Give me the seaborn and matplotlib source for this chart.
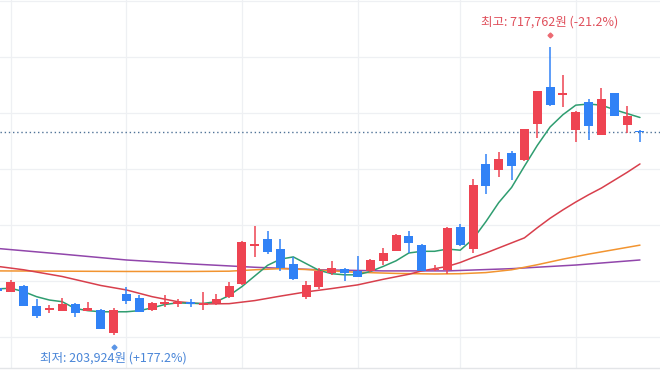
import pandas as pd
import numpy as np
import matplotlib
matplotlib.use("Agg")
import matplotlib.pyplot as plt
import seaborn as sns

# daily candles (thousand won)
opens  = [287, 281, 291, 256, 249, 247, 259, 247, 249, 206.5,
          277, 269, 248, 259, 259, 261, 258, 260, 271, 294,
          363, 375, 358, 330, 271, 289, 315, 321, 317, 317,
          336, 354, 380, 365, 319, 320, 396, 358, 509, 498,
          529, 516, 581, 646, 633, 570, 620, 561, 635, 578, 568.5]
highs  = [289, 302, 293, 267, 257, 269, 261, 263, 250, 251,
          290, 275, 263, 275, 268, 267, 281, 276, 299, 372,
          398, 389, 375, 343, 300, 323, 336, 323, 345, 340,
          359, 384, 389, 366, 328, 396, 401, 482, 527, 530,
          533, 572, 640, 717.762, 668, 604, 625, 645, 636, 613, 569.5]
lows   = [280, 280, 256, 234, 242, 246, 236, 246, 214, 203.924,
          259, 244, 247, 253, 254, 253, 248, 258, 269, 293,
          343, 348, 317, 302, 268, 285, 311, 300, 307, 316,
          328, 353, 350, 317, 317, 312, 362, 350, 455, 485,
          480, 515, 556, 612, 610, 549, 551, 560, 594, 565, 549]
closes = [282, 299, 256, 238, 250, 259, 242, 252, 215, 248,
          265, 245, 260, 262, 260, 259, 261, 268, 291, 370,
          365, 351, 323, 304, 293, 317, 323, 314, 308, 337,
          350, 382, 367, 318, 321, 395, 364, 471, 470, 517,
          506, 571, 639, 614, 635, 602, 577, 625, 594, 594, 565.5]

# moving average lines (thousand won)
ma5 = [286, 287, 281, 272, 266, 263, 251, 247, 245, 245,
       245, 247, 252, 258, 261, 260, 260, 263, 274, 290,
       309, 328, 339, 343, 331, 319, 313, 311, 311, 317,
       326, 336, 350, 353, 353, 357, 355, 375, 406, 440,
       467, 505, 542, 575, 597, 614, 616, 614, 606, 599, 592]
ma20_idx = [0, 2, 5, 8, 10, 12, 14, 16, 18, 20, 22, 24, 26, 28, 30, 32, 33,
            34, 35, 36, 37, 38, 39, 40, 41, 42, 43, 44, 45, 46, 47, 48, 49, 50]
ma20 = [326, 320, 308, 292, 284, 272, 263, 259, 259.5, 265, 273, 280.5, 286.5,
        293, 303, 312, 318, 322, 326, 333, 342, 350, 359, 368, 377, 395, 412,
        427, 441, 454, 466, 480, 494, 509]
ma60_idx = [0, 5, 10, 15, 18, 20, 22, 24, 26, 28, 31, 34, 36, 38, 40, 42, 44, 46, 48, 50]
ma60 = [318, 317.5, 317, 317, 317.5, 320, 322, 320.5, 318, 315.5, 313.5, 312.5,
        313, 315, 320, 329, 339, 348, 356, 364]
ma120_idx = [0, 5, 10, 15, 20, 25, 30, 35, 40, 45, 50]
ma120 = [358, 348, 337.5, 330.5, 324.5, 320, 318, 318, 322, 328.5, 337.5]

grid_days = [1, 10, 19, 28, 36, 45]
current = 565.5

up_color = "#ee4452"
down_color = "#3182f6"

df = pd.DataFrame({"open": opens, "high": highs, "low": lows, "close": closes})
df["day"] = np.arange(len(df))
df["up"] = df["close"] >= df["open"]
df["color"] = np.where(df["up"], up_color, down_color)
df["bottom"] = df[["open", "close"]].min(axis=1)
df["height"] = (df["close"] - df["open"]).abs().clip(lower=2.6)

sns.set_theme(style="white")
plt.rcParams['font.family'] = ['Noto Sans CJK KR', 'DejaVu Sans']

fig = plt.figure(figsize=(6.6, 3.7), dpi=100)
ax = fig.add_axes([0, 2 / 370, 1, 368 / 370])

# grid
for v in range(200, 801, 100):
    ax.axhline(v, color="#eef0f3", lw=0.9, zorder=0)
for d in grid_days:
    ax.axvline(d, color="#eef0f3", lw=0.9, zorder=0)

# moving averages
sns.lineplot(x=ma120_idx, y=ma120, color="#9146ab", lw=1.1, ax=ax, zorder=2)
sns.lineplot(x=ma60_idx, y=ma60, color="#f29430", lw=1.1, ax=ax, zorder=2)
sns.lineplot(x=ma20_idx, y=ma20, color="#d83f4c", lw=1.1, ax=ax, zorder=2)
sns.lineplot(x=df["day"], y=ma5, color="#2f9d70", lw=1.1, ax=ax, zorder=2)

# candles
ax.vlines(df["day"], df["low"], df["high"], colors=df["color"], lw=1.1, zorder=3)
ax.bar(df["day"], df["height"], bottom=df["bottom"], width=0.7,
       color=df["color"], linewidth=0, zorder=4)

# current price
ax.axhline(current, color="#4f7297", lw=1.0, ls=(0, (1, 2)), zorder=1)

# high / low markers
hi = df["high"].idxmax()
lo = df["low"].idxmin()
ax.plot(hi, df.loc[hi, "high"] + 21, marker="D", ms=2.5, color="#ec6a72", zorder=5)
ax.text(hi, df.loc[hi, "high"] + 44, "최고: 717,762원 (-21.2%)", color="#e0505c",
        fontsize=9, ha="center", va="center")
ax.plot(lo, df.loc[lo, "low"] - 22, marker="D", ms=2.5, color="#5b95e6", zorder=5)
ax.text(lo, df.loc[lo, "low"] - 41, "최저: 203,924원 (+177.2%)", color="#4a86d8",
        fontsize=9, ha="center", va="center")

ax.set_xlim(0.156, 51.56)
ax.set_ylim(144.6, 801.8)
ax.set_xticks([])
ax.set_yticks([])
ax.set_xlabel("")
ax.set_ylabel("")
for s in ["top", "left", "right"]:
    ax.spines[s].set_visible(False)
ax.spines["bottom"].set_color("#e3e5e8")
ax.spines["bottom"].set_linewidth(1.0)

fig.savefig("out.png", dpi=100)
